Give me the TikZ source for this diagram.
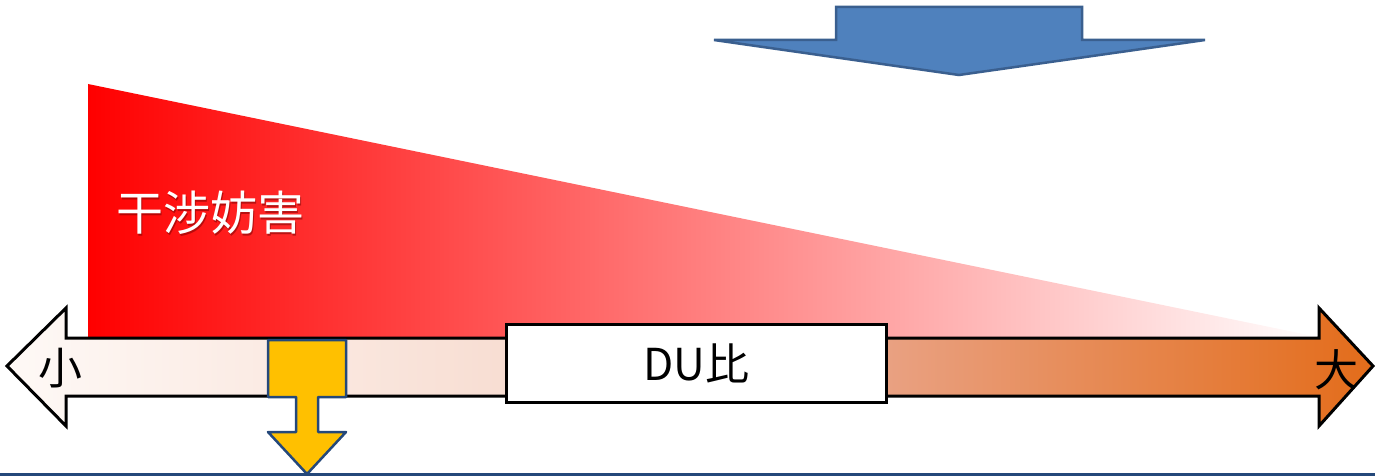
\documentclass[tikz,border=0pt]{standalone}
\usepackage{fontspec}
\newfontfamily\cjk{Noto Sans CJK JP}
\definecolor{axA}{HTML}{FEF9F6}
\definecolor{axB}{HTML}{F8DED3}
\definecolor{axC}{HTML}{E9A080}
\definecolor{axD}{HTML}{E36C1A}
\definecolor{yelfill}{HTML}{FFC000}
\definecolor{darkblue}{HTML}{24487A}
\definecolor{bluefill}{HTML}{4F81BD}
\definecolor{blueline}{HTML}{3A5F8F}
\pgfdeclarehorizontalshading{axisfade}{100bp}{color(0bp)=(axA); color(25bp)=(axA); color(43bp)=(axB); color(57.5bp)=(axC); color(75bp)=(axD); color(100bp)=(axD)}
\tikzset{
  axisshape/.style={draw=black, line width=3pt, line join=miter, shading=axisfade},
  dubox/.style={draw=black, line width=3pt, fill=white, minimum width=380pt, minimum height=78pt, inner sep=0pt},
  bigtext/.style={font=\cjk\fontsize{44}{50}\selectfont, inner sep=0pt},
  labtext/.style={font=\cjk\fontsize{47}{52}\selectfont, inner sep=0pt},
  yelarrow/.style={draw=darkblue, line width=2.5pt, fill=yelfill, line join=round},
  bluearrow/.style={draw=blueline, line width=2.5pt, fill=bluefill, line join=miter},
}
\begin{document}
\begin{tikzpicture}[x=1pt,y=-1pt]
\useasboundingbox (0,0) rectangle (1375,476);
% red fading triangle
\path[left color=red, right color=white] (88,84) -- (1323,338) -- (88,338) -- cycle;
% double arrow axis
\path[axisshape] (7,366) -- (66,308) -- (66,338) -- (1319,338) -- (1319,308) -- (1373,366)
  -- (1319,426) -- (1319,396) -- (66,396) -- (66,426) -- cycle;
\node[bigtext] (small) at (60,368) {小};
\node[bigtext] (large) at (1336,370) {大};
% DU ratio box
\node[dubox] (du) at (696,363) {};
\node[bigtext] (dutext) at (du.center) {DU比};
% interference label with shadow
\node[labtext, text=black!55!red, opacity=0.5, anchor=west] (labshadow) at (117.5,214.5) {干涉妨害};
\node[labtext, text=white, anchor=west] (lab) at (116,213) {干涉妨害};
% yellow arrow
\path[yelarrow] (268,340) -- (346,340) -- (346,397) -- (318,397) -- (318,432) -- (346,432)
  -- (307,474) -- (268,432) -- (296,432) -- (296,397) -- (268,397) -- cycle;
% bottom line
\coordinate (lineL) at (0,474);
\coordinate (lineR) at (1375,474);
\draw[darkblue, line width=3pt] (lineL) -- (lineR);
% blue arrow on top
\path[bluearrow] (836,7) -- (1082,7) -- (1082,40) -- (1205,40) -- (959,75) -- (714,40)
  -- (836,40) -- cycle;
\end{tikzpicture}
\end{document}
